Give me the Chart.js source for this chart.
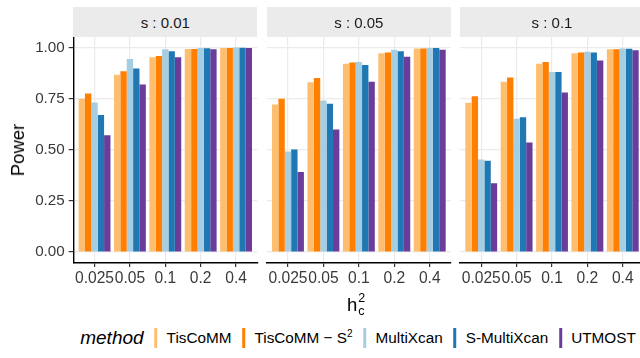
<!DOCTYPE html>
<html>
<head>
<meta charset="utf-8">
<script src="https://cdn.jsdelivr.net/npm/chart.js@4.4.1/dist/chart.umd.min.js"></script>
<style>
  html, body { margin: 0; padding: 0; background: #fff; }
  #wrap { position: relative; width: 640px; height: 358px; overflow: hidden;
          font-family: "Liberation Sans", Arial, Helvetica, sans-serif; }
  canvas { position: absolute; top: 0; }
  .strip { position: absolute; top: 7px; height: 30px; background: #EBEBEB; color: #1A1A1A;
           font-size: 15px; display: flex; align-items: center; justify-content: center; }
  #ytitle { position: absolute; left: 18px; top: 150px; transform: translate(-50%, -50%) rotate(-90deg);
            font-size: 18.5px; color: #000; white-space: nowrap; }
  #xtitle { position: absolute; left: 356px; top: 305px; transform: translate(-50%, -50%);
            font-size: 18.5px; color: #000; display: flex; align-items: center; }
  #xtitle .ss { display: inline-flex; flex-direction: column; font-size: 12.5px; line-height: 13px;
                margin-left: 1px; text-align: left; }
  #legend { position: absolute; left: 358px; top: 338px; transform: translate(-50%, -50%);
            display: flex; align-items: center; white-space: nowrap; color: #000; }
  #legend .ttl { font-style: italic; font-size: 19px; margin-right: 11px; }
  #legend .key { width: 3px; height: 20px; margin-right: 9px; }
  #legend .lab { font-size: 15.3px; margin-right: 11px; }
  #legend .lab sup { font-size: 10px; vertical-align: 6px; line-height: 0; }
</style>
</head>
<body>
<div id="wrap">
  <canvas id="p0" width="262" height="300" style="left:0px"></canvas>
  <canvas id="p1" width="194" height="300" style="left:262px"></canvas>
  <canvas id="p2" width="194" height="300" style="left:455px"></canvas>
  <div id="ytitle">Power</div>
  <div id="xtitle">h<span class="ss"><span>2</span><span>c</span></span></div>
  <div id="legend"></div>
</div>
<script>
// h_c^2 levels on the x axis, one facet per s value
const heritability = ['0.025', '0.05', '0.1', '0.2', '0.4'];
const sLevels = ['0.01', '0.05', '0.1'];
const methods = ['TisCoMM', 'TisCoMM \u2212 S2', 'MultiXcan', 'S-MultiXcan', 'UTMOST'];
const methodColors = ['#FDBF6F', '#FF7F00', '#A6CEE3', '#1F78B4', '#6A3D9A'];
const yTicks = [0, 0.25, 0.5, 0.75, 1];

// Power by method, s = 0.01
const s001_TisCoMM    = [0.750, 0.867, 0.952, 0.993, 0.998];
const s001_TisCoMM_S2 = [0.775, 0.884, 0.958, 0.993, 0.998];
const s001_MultiXcan  = [0.731, 0.944, 0.992, 0.998, 1.000];
const s001_SMultiXcan = [0.670, 0.898, 0.982, 0.997, 0.999];
const s001_UTMOST     = [0.571, 0.819, 0.953, 0.992, 0.998];

// Power by method, s = 0.05
const s005_TisCoMM    = [0.722, 0.830, 0.921, 0.972, 0.995];
const s005_TisCoMM_S2 = [0.749, 0.851, 0.927, 0.976, 0.995];
const s005_MultiXcan  = [0.492, 0.741, 0.929, 0.989, 0.998];
const s005_SMultiXcan = [0.502, 0.725, 0.914, 0.982, 0.998];
const s005_UTMOST     = [0.392, 0.599, 0.833, 0.955, 0.989];

// Power by method, s = 0.1
const s01_TisCoMM    = [0.730, 0.833, 0.921, 0.972, 0.992];
const s01_TisCoMM_S2 = [0.762, 0.853, 0.929, 0.976, 0.992];
const s01_MultiXcan  = [0.453, 0.652, 0.880, 0.979, 0.995];
const s01_SMultiXcan = [0.447, 0.659, 0.880, 0.976, 0.994];
const s01_UTMOST     = [0.337, 0.536, 0.780, 0.937, 0.987];

const panels = [
  [s001_TisCoMM, s001_TisCoMM_S2, s001_MultiXcan, s001_SMultiXcan, s001_UTMOST],
  [s005_TisCoMM, s005_TisCoMM_S2, s005_MultiXcan, s005_SMultiXcan, s005_UTMOST],
  [s01_TisCoMM, s01_TisCoMM_S2, s01_MultiXcan, s01_SMultiXcan, s01_UTMOST]
];

const FONT = '"Liberation Sans", Arial, Helvetica, sans-serif';
const TICK_TEXT = '#3A3A3A';
const AREA_TOP = 37.3, AREA_BOTTOM = 262.3, CANVAS_H = 300;

function makePanel(canvasId, idx, padLeft, padRight, withYAxis) {
  const datasets = methods.map((m, k) => ({
    label: m,
    data: heritability.map((h, i) => ({ x: i + 1, y: panels[idx][k][i] })),
    backgroundColor: methodColors[k],
    borderWidth: 0,
    categoryPercentage: 0.9,
    barPercentage: 1.0
  }));
  const yScale = {
    type: 'linear', min: -0.05, max: 1.05,
    afterBuildTicks: s => { s.ticks = yTicks.map(v => ({ value: v })); },
    afterFit: s => { s.width = withYAxis ? 73.3 - padLeft : 0; },
    grid: { color: '#EBEBEB', lineWidth: 1.2, drawTicks: withYAxis, tickColor: '#333', tickLength: 4.6 },
    border: { display: withYAxis, color: '#000', width: 1.4 },
    ticks: { display: withYAxis, padding: 4, color: TICK_TEXT,
             font: { family: FONT, size: 15.2 }, callback: v => v.toFixed(2) }
  };
  return new Chart(document.getElementById(canvasId), {
    type: 'bar',
    data: { datasets },
    options: {
      responsive: false, animation: false, devicePixelRatio: 1,
      layout: { padding: { left: padLeft, right: padRight, top: AREA_TOP, bottom: 0 } },
      plugins: { legend: { display: false }, tooltip: { enabled: false } },
      scales: {
        x: {
          type: 'linear', min: 0.4, max: 5.6, offset: false,
          afterBuildTicks: s => { s.ticks = heritability.map((h, i) => ({ value: i + 1 })); },
          afterFit: s => { s.height = CANVAS_H - AREA_BOTTOM; },
          grid: { offset: false, color: '#EBEBEB', lineWidth: 1.2, drawTicks: true, tickColor: '#333', tickLength: 4.6 },
          border: { display: true, color: '#000', width: 1.4 },
          ticks: { autoSkip: false, maxRotation: 0, minRotation: 0, padding: 2, color: TICK_TEXT,
                   font: { family: FONT, size: 15.6 }, callback: v => heritability[v - 1] }
        },
        y: yScale
      }
    }
  });
}

const charts = [
  makePanel('p0', 0, 0, 4.7, true),
  makePanel('p1', 1, 4.7, 5, false),
  makePanel('p2', 2, 5, 5, false)
];

// facet strips above each panel, spanning the chart area
const wrap = document.getElementById('wrap');
charts.forEach((ch, i) => {
  const off = parseFloat(ch.canvas.style.left);
  const a = ch.chartArea;
  const d = document.createElement('div');
  d.className = 'strip';
  d.style.left = (off + a.left) + 'px';
  d.style.width = (a.right - a.left) + 'px';
  d.textContent = 's : ' + sLevels[i];
  wrap.appendChild(d);
});

// legend row
const lg = document.getElementById('legend');
const t = document.createElement('span');
t.className = 'ttl'; t.textContent = 'method';
lg.appendChild(t);
methods.forEach((m, k) => {
  const key = document.createElement('span');
  key.className = 'key'; key.style.background = methodColors[k];
  lg.appendChild(key);
  const lab = document.createElement('span');
  lab.className = 'lab';
  if (m.endsWith('S2')) {
    lab.appendChild(document.createTextNode(m.slice(0, -1)));
    const sup = document.createElement('sup'); sup.textContent = '2';
    lab.appendChild(sup);
  } else {
    lab.textContent = m;
  }
  if (k === methods.length - 1) lab.style.marginRight = '0';
  lg.appendChild(lab);
});
</script>
</body>
</html>
